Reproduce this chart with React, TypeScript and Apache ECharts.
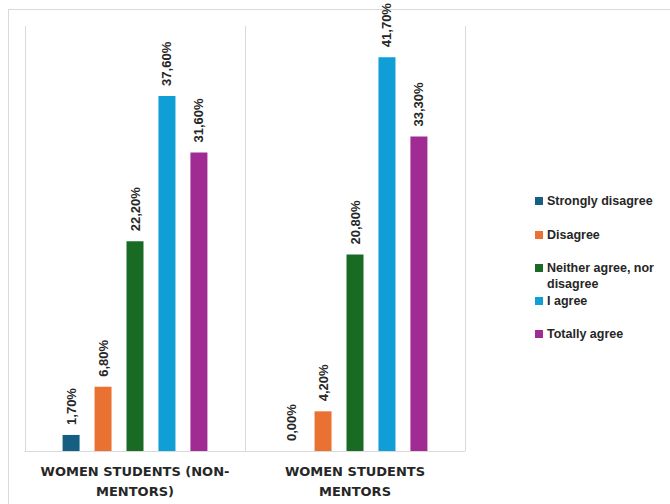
import React, { useEffect, useRef } from "react";
import * as echarts from "echarts";

const categories = ["WOMEN STUDENTS (NON-\nMENTORS)", "WOMEN STUDENTS\nMENTORS"];
const seriesNames = [
  "Strongly disagree",
  "Disagree",
  "Neither agree, nor\ndisagree",
  "I agree",
  "Totally agree",
];
const stronglyDisagree = [1.7, 0.0];
const disagree = [6.8, 4.2];
const neither = [22.2, 20.8];
const agree = [37.6, 41.7];
const totallyAgree = [31.6, 33.3];
const colors = ["#156082", "#E97132", "#196B24", "#0F9ED5", "#A02B93"];

const FONT = "Liberation Sans";

export default function App() {
  const ref = useRef<HTMLDivElement>(null);
  useEffect(() => {
    if (!ref.current) return;
    const chart = echarts.init(ref.current, null, { renderer: "svg" });
    const values = [stronglyDisagree, disagree, neither, agree, totallyAgree];
    const legendTops = [193, 227, 260, 293, 326];
    const legends = seriesNames.map((name, i) => {
      const multi = name.indexOf("\n") >= 0;
      return {
        show: true,
        orient: "vertical",
        left: 535,
        top: legendTops[i],
        itemWidth: 8,
        itemHeight: multi ? 24 : 8,
        icon: multi ? "path://M0,0L8,0L8,8L0,8Z M0,24L8,24" : "rect",
        padding: 0,
        itemGap: 0,
        data: [name],
        textStyle: {
          fontFamily: FONT,
          fontWeight: "bold",
          fontSize: 12.5,
          color: "#262626",
          lineHeight: 16,
          padding: [0, 0, 0, -1],
        },
      };
    });
    chart.setOption({
      animation: false,
      backgroundColor: "#ffffff",
      legend: legends,
      grid: { left: 25, right: 205, top: 26, bottom: 53, containLabel: false },
      xAxis: {
        type: "category",
        data: categories,
        axisTick: { show: false },
        axisLine: { show: true, lineStyle: { color: "#d9d9d9", width: 1 } },
        splitLine: { show: true, lineStyle: { color: "#d9d9d9", width: 1 } },
        axisLabel: {
          interval: 0,
          fontFamily: "DejaVu Sans",
          fontWeight: "bold",
          fontSize: 13,
          color: "#262626",
          lineHeight: 20,
          margin: 10,
        },
      },
      yAxis: {
        type: "value",
        min: 0,
        max: 45,
        show: false,
        splitLine: { show: false },
      },
      series: seriesNames.map((name, i) => ({
        name,
        type: "bar",
        data: values[i],
        barWidth: 17,
        barGap: "88%",
        itemStyle: { color: colors[i] },
        label: {
          show: true,
          position: "top",
          rotate: 90,
          align: "left",
          verticalAlign: "middle",
          distance: 10,
          fontFamily: FONT,
          fontWeight: "bold",
          fontSize: 13,
          color: "#262626",
          formatter: (p: any) => p.value.toFixed(2).replace(".", ",") + "%",
        },
      })),
      graphic: [
        {
          type: "line",
          shape: { x1: 8, y1: 9.5, x2: 670, y2: 9.5 },
          style: { stroke: "#d9d9d9", lineWidth: 1 },
          silent: true,
        },
        {
          type: "line",
          shape: { x1: 8.5, y1: 9, x2: 8.5, y2: 504 },
          style: { stroke: "#d9d9d9", lineWidth: 1 },
          silent: true,
        },
      ],
    });
    return () => chart.dispose();
  }, []);
  return (
    <div style={{ position: "absolute", left: 0, top: 0, width: 670, height: 504, overflow: "hidden" }}>
      <div ref={ref} style={{ width: 670, height: 504 }} />
    </div>
  );
}
